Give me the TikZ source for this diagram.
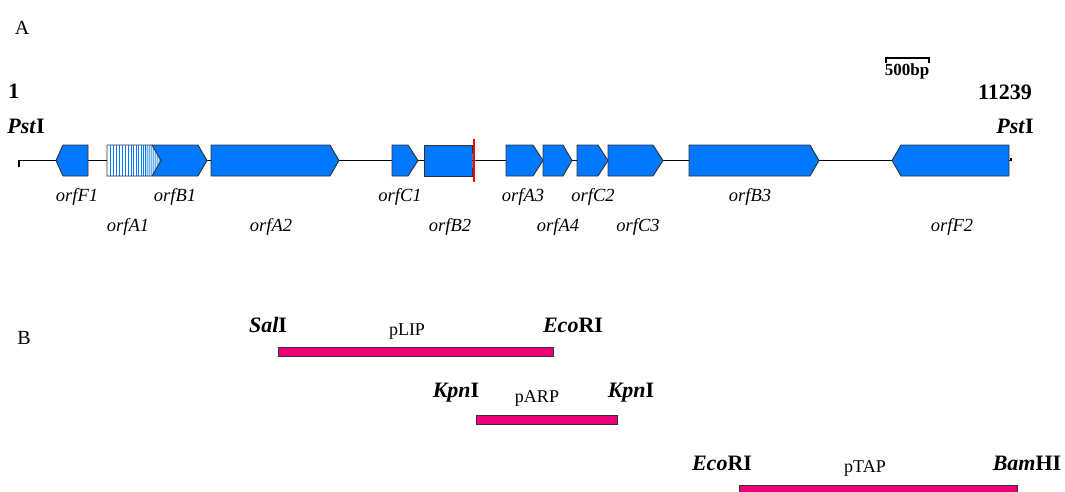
\documentclass[tikz,border=0pt]{standalone}
\usepackage{fontspec}
\setmainfont{Liberation Serif}
\definecolor{gene}{RGB}{0,120,255}
\definecolor{lgene}{RGB}{150,200,255}
\definecolor{pinkbar}{RGB}{240,0,120}
\definecolor{edge}{RGB}{50,50,50}
\tikzset{
  genebox/.style={fill=gene,draw=edge,line width=0.9pt,line join=miter},
  orflab/.style={font=\fontsize{18.5}{18.5}\selectfont\itshape,inner sep=0pt},
  site/.style={font=\fontsize{22}{22}\selectfont\bfseries,inner sep=0pt},
  plab/.style={font=\fontsize{18}{18}\selectfont,inner sep=0pt},
  panel/.style={font=\fontsize{20}{20}\selectfont,inner sep=0pt},
  pbar/.style={fill=pinkbar,draw=edge,line width=0.9pt},
  backbone/.style={draw=black,line width=1.3pt},
}
\def\gp#1#2#3{(#1,145)--(#2,145)--(#3,160.5)--(#2,176)--(#1,176)--cycle}
\begin{document}
\begin{tikzpicture}[x=1pt,y=-1pt]
\useasboundingbox (0,0) rectangle (1065,491);
\clip (0,0) rectangle (1065,491);
% panel labels
\node[panel] (pA) at (22,28) {A};
\node[panel] (pB) at (24,338) {B};
% ends
\node[site] (one) at (14,91) {1};
\node[site] (end) at (1005,92) {11239};
\node[site] (pstL) at (26,126) {\textit{Pst}I};
\node[site] (pstR) at (1015,126) {\textit{Pst}I};
% scale bar
\coordinate (sb1) at (886,58);
\coordinate (sb2) at (929,58);
\draw[line width=1.1pt] ([yshift=-5pt]sb1) -- (sb1) -- (sb2) -- ([yshift=-5pt]sb2);
\node[font=\fontsize{17}{17}\selectfont\bfseries,inner sep=0pt] (sbl) at (907,71) {500bp};
% backbone
\coordinate (bL) at (19,160.5);
\coordinate (bR) at (1011,160.5);
\draw[backbone] ([yshift=-6pt]bL) -- (bL) -- (bR) -- ([yshift=3pt]bR);
% genes
\draw[genebox] \gp{88}{63}{56};
\draw[genebox] \gp{152}{198}{207};
\draw[genebox] \gp{211}{330}{339};
\draw[genebox] \gp{392}{408}{418};
\draw[genebox] \gp{424}{472}{472};
\draw[genebox] \gp{506}{533}{543};
\draw[genebox] \gp{543}{563}{572};
\draw[genebox] \gp{577}{598}{608};
\draw[genebox] \gp{608}{653}{663};
\draw[genebox] \gp{689}{810}{819};
\draw[genebox] \gp{1009}{901}{892};
% orfA1 hatched
\begin{scope}
  \clip \gp{107}{152}{161};
  \fill[white] (100,140) rectangle (165,180);
  \fill[lgene!60] (146,140) rectangle (165,180);
  \foreach \xx in {110,113,116,119,122,125,128,131,133.5,136,138.5,141,143,145}
    \draw[gene,line width=1pt] (\xx,140) -- (\xx,180);
  \foreach \xx in {147,149,151,153,155,157,159}
    \draw[lgene!70!gene,line width=0.8pt] (\xx,140) -- (\xx,180);
\end{scope}
\draw[draw=edge,line width=0.9pt] \gp{107}{152}{161};
% red mark
\coordinate (r1) at (474,139);
\coordinate (r2) at (474,182);
\draw[red,line width=2.4pt] (r1) -- (r2);
% orf labels
\node[orflab] (lF1) at (77,197) {orfF1};
\node[orflab] (lB1) at (175,197) {orfB1};
\node[orflab] (lA1) at (128,227) {orfA1};
\node[orflab] (lA2) at (271,227) {orfA2};
\node[orflab] (lC1) at (400,197) {orfC1};
\node[orflab] (lB2) at (450,227) {orfB2};
\node[orflab] (lA3) at (523,197) {orfA3};
\node[orflab] (lA4) at (558,227) {orfA4};
\node[orflab] (lC2) at (593,197) {orfC2};
\node[orflab] (lC3) at (638,227) {orfC3};
\node[orflab] (lB3) at (750,197) {orfB3};
\node[orflab] (lF2) at (952,227) {orfF2};
% B: clones
\node[site] (sal) at (268,325) {\textit{Sal}I};
\node[plab] (plip) at (407,332) {pLIP};
\node[site] (eco1) at (573,325) {\textit{Eco}RI};
\draw[pbar] (278,347) rectangle (553,356);
\node[site] (kpn1) at (456,393) {\textit{Kpn}I};
\node[plab] (parp) at (537,398) {pARP};
\node[site] (kpn2) at (631,393) {\textit{Kpn}I};
\draw[pbar] (476,415) rectangle (617,424);
\node[site] (eco2) at (722,463) {\textit{Eco}RI};
\node[plab] (ptap) at (865,468) {pTAP};
\node[site] (bam) at (1027,463) {\textit{Bam}HI};
\draw[pbar] (739,485) rectangle (1017,496);
\end{tikzpicture}
\end{document}
